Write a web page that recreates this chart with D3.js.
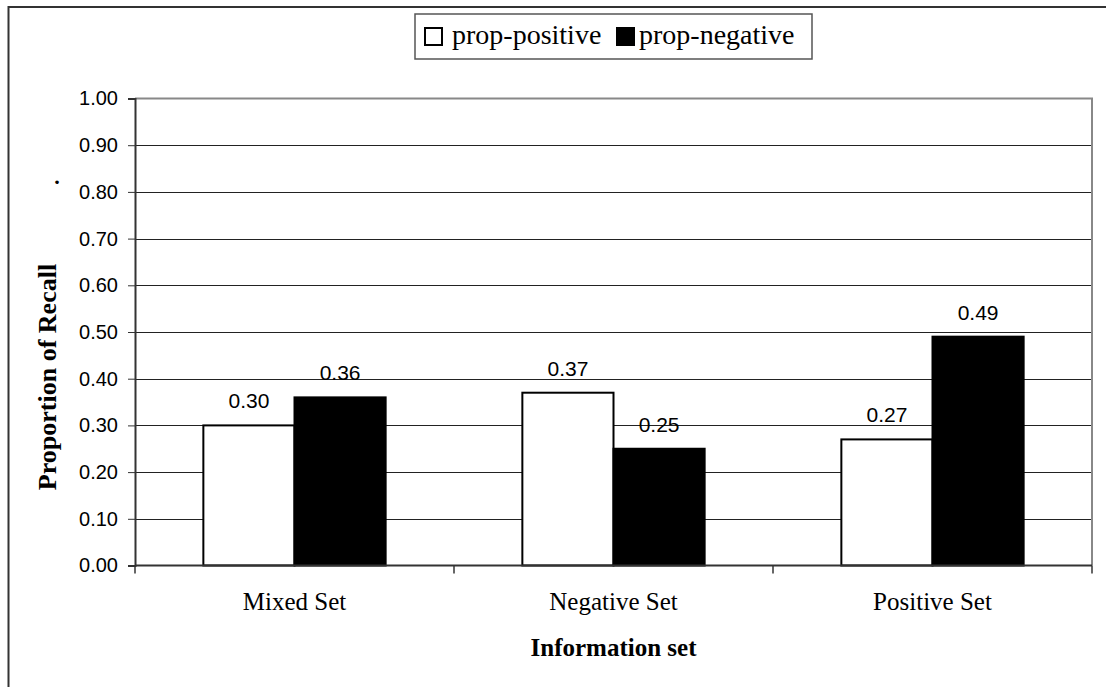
<!DOCTYPE html>
<html>
<head>
<meta charset="utf-8">
<script src="https://cdn.jsdelivr.net/npm/d3@7"></script>
<style>
  body { margin: 0; background: #fff; }
  svg { display: block; }
</style>
</head>
<body>
<div id="chart"></div>
<script>
// data
var categories = ["Mixed Set", "Negative Set", "Positive Set"];
var seriesNames = ["prop-positive", "prop-negative"];
var propPositive = [0.30, 0.37, 0.27];
var propNegative = [0.36, 0.25, 0.49];
var yTicks = [0, 0.1, 0.2, 0.3, 0.4, 0.5, 0.6, 0.7, 0.8, 0.9, 1.0];
var fills = ["#ffffff", "#000000"];

var width = 1106, height = 687;
var plotLeft = 135, plotRight = 1092,
    plotTop = 98.5, plotBottom = 565.5;

var serif = "'Liberation Serif', 'Times New Roman', serif",
    sans = "'Liberation Sans', Arial, sans-serif";

var svg = d3.select("#chart").append("svg")
    .attr("width", width)
    .attr("height", height);

// outer chart frame (right/bottom fall off the picture)
svg.append("rect")
    .attr("x", 8.5).attr("y", 7)
    .attr("width", 1300).attr("height", 900)
    .attr("fill", "white")
    .attr("stroke", "#333").attr("stroke-width", 2);

var x = d3.scaleBand()
    .domain(categories)
    .range([plotLeft, plotRight]);

// bars take 1/3.5 of the category each (excel gap width 150%)
var x1 = d3.scaleBand()
    .domain(seriesNames)
    .range([0, x.bandwidth()])
    .paddingOuter(0.75)
    .paddingInner(0);

var y = d3.scaleLinear()
    .domain([0, 1])
    .range([plotBottom, plotTop]);

// gridlines
svg.append("g")
    .selectAll("line")
    .data(yTicks.filter(function (d) { return d > 0 && d < 1; }))
    .enter().append("line")
    .attr("x1", plotLeft).attr("x2", plotRight)
    .attr("y1", function (d) { return Math.round(y(d)) + 0.5; })
    .attr("y2", function (d) { return Math.round(y(d)) + 0.5; })
    .attr("stroke", "#222").attr("stroke-width", 1);

// plot area border, top and right grey
svg.append("path")
    .attr("d", "M" + plotLeft + "," + plotTop + "H" + plotRight + "V" + plotBottom)
    .attr("fill", "none")
    .attr("stroke", "#888").attr("stroke-width", 2);

var rows = categories.map(function (c, i) {
    return { cat: c, vals: [propPositive[i], propNegative[i]] };
});

var groups = svg.append("g")
    .selectAll("g")
    .data(rows)
    .enter().append("g")
    .attr("transform", function (d) { return "translate(" + x(d.cat) + ",0)"; });

groups.selectAll("rect")
    .data(function (d) {
        return d.vals.map(function (v, j) { return { key: seriesNames[j], v: v, j: j }; });
    })
    .enter().append("rect")
    .attr("x", function (d) { return x1(d.key); })
    .attr("y", function (d) { return y(d.v); })
    .attr("width", x1.bandwidth())
    .attr("height", function (d) { return plotBottom - y(d.v); })
    .attr("fill", function (d) { return fills[d.j]; })
    .attr("stroke", "#000").attr("stroke-width", 2);

groups.selectAll("text")
    .data(function (d) {
        return d.vals.map(function (v, j) { return { key: seriesNames[j], v: v }; });
    })
    .enter().append("text")
    .attr("x", function (d) { return x1(d.key) + x1.bandwidth() / 2; })
    .attr("y", function (d) { return y(d.v) - 17; })
    .attr("text-anchor", "middle")
    .style("font-family", sans)
    .style("font-size", "21px")
    .text(function (d) { return d3.format(".2f")(d.v); });

// y axis
var yAxis = svg.append("g")
    .attr("transform", "translate(" + plotLeft + ",0)")
    .call(d3.axisLeft(y).tickValues(yTicks).tickFormat(d3.format(".2f")).tickSize(7).tickPadding(10));
yAxis.select(".domain").attr("stroke", "#333").attr("stroke-width", 2);
yAxis.selectAll(".tick line").attr("stroke", "#333");
yAxis.selectAll("text")
    .style("font-family", sans)
    .style("font-size", "20px")
    .attr("fill", "#000");

// x axis, ticks at category boundaries
svg.append("line")
    .attr("x1", plotLeft).attr("x2", plotRight)
    .attr("y1", plotBottom).attr("y2", plotBottom)
    .attr("stroke", "#333").attr("stroke-width", 2);

var bounds = categories.map(function (c) { return x(c); }).concat([plotRight]);
svg.append("g").selectAll("line")
    .data(bounds)
    .enter().append("line")
    .attr("x1", function (d) { return d; }).attr("x2", function (d) { return d; })
    .attr("y1", plotBottom).attr("y2", plotBottom + 8)
    .attr("stroke", "#333").attr("stroke-width", 1.5);

svg.append("g").selectAll("text")
    .data(categories)
    .enter().append("text")
    .attr("x", function (d) { return x(d) + x.bandwidth() / 2; })
    .attr("y", 610)
    .attr("text-anchor", "middle")
    .style("font-family", serif)
    .style("font-size", "25px")
    .text(function (d) { return d; });

// axis titles
svg.append("text")
    .attr("x", plotLeft + (plotRight - plotLeft) / 2)
    .attr("y", 656)
    .attr("text-anchor", "middle")
    .style("font-family", serif)
    .style("font-size", "25px")
    .style("font-weight", "bold")
    .text("Information set");

svg.append("text")
    .attr("transform", "translate(56,377) rotate(-90)")
    .attr("text-anchor", "middle")
    .style("font-family", serif)
    .style("font-size", "26px")
    .style("font-weight", "bold")
    .text("Proportion of Recall");

// stray dot left of the axis
svg.append("text")
    .attr("x", 57).attr("y", 184)
    .attr("text-anchor", "middle")
    .style("font-family", serif)
    .style("font-size", "22px")
    .style("font-weight", "bold")
    .text(".");

// legend
var legend = svg.append("g");
legend.append("rect")
    .attr("x", 415).attr("y", 14)
    .attr("width", 397).attr("height", 45)
    .attr("fill", "white")
    .attr("stroke", "#555").attr("stroke-width", 1.5);

var legendX = [425, 617];
var legendItems = legend.selectAll("g")
    .data(seriesNames)
    .enter().append("g")
    .attr("transform", function (d, i) { return "translate(" + legendX[i] + ",0)"; });

legendItems.append("rect")
    .attr("x", 0).attr("y", 28)
    .attr("width", 17).attr("height", 17)
    .attr("fill", function (d, i) { return fills[i]; })
    .attr("stroke", "#000").attr("stroke-width", 2);

legendItems.append("text")
    .attr("x", function (d, i) { return i === 0 ? 27 : 22; })
    .attr("y", 44)
    .style("font-family", serif)
    .style("font-size", "28px")
    .text(function (d) { return d; });
</script>
</body>
</html>
